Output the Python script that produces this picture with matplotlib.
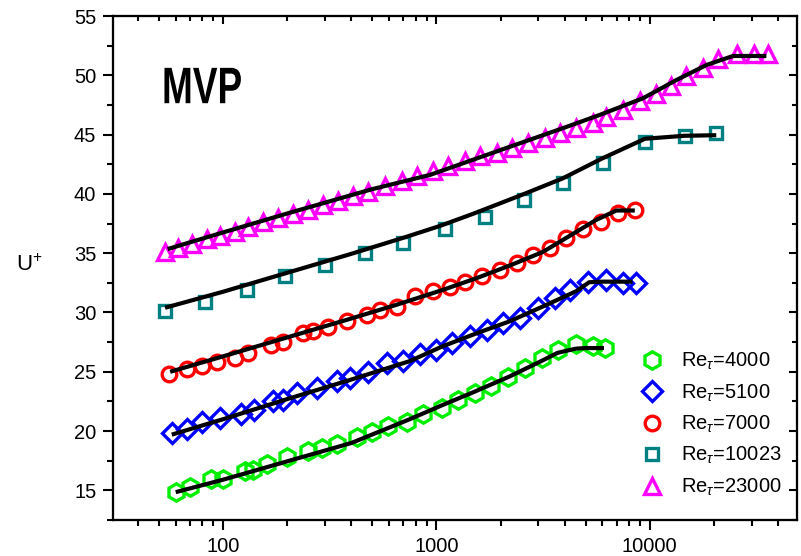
import matplotlib
matplotlib.use("Agg")
import matplotlib.pyplot as plt
from matplotlib.ticker import FixedLocator, MultipleLocator, FuncFormatter, LogLocator, NullFormatter
from matplotlib.patheffects import AbstractPathEffect
from matplotlib.transforms import Affine2D

plt.rcParams['font.family'] = ['Liberation Sans', 'DejaVu Sans']
plt.rcParams['mathtext.fontset'] = 'custom'
plt.rcParams['mathtext.rm'] = 'Liberation Sans'
plt.rcParams['mathtext.it'] = 'Liberation Sans:italic'

# ---- data ----
labels = [r'Re$_{\tau}$=4000', r'Re$_{\tau}$=5100', r'Re$_{\tau}$=7000',
          r'Re$_{\tau}$=10023', r'Re$_{\tau}$=23000']

g_x = [60, 70, 88, 100, 127, 138, 161, 200, 250, 291, 342, 424, 499, 594, 728, 867,
       1057, 1265, 1513, 1812, 2168, 2599, 3111, 3718, 4536, 5425, 6150]
g_y = [14.9, 15.3, 16.0, 16.0, 16.6, 16.75, 17.2, 17.8, 18.3, 18.6, 18.95, 19.5, 19.9,
       20.4, 20.8, 21.4, 21.95, 22.65, 23.2, 23.8, 24.55, 25.3, 26.15, 26.85, 27.35, 27.15, 27.0]
gl_x = [60, 100, 200, 400, 750, 1070, 1500, 2200, 3100, 3700, 4500, 5000, 6100]
gl_y = [14.85, 15.9, 17.45, 19.0, 21.0, 22.2, 23.3, 24.6, 25.9, 26.6, 26.95, 27.0, 27.0]

b_x = [57.5, 67.6, 79.5, 96.8, 122, 139, 172, 192, 221, 275, 341, 394, 480, 585, 700, 838,
       1000, 1178, 1435, 1718, 2056, 2462, 2999, 3590, 4220, 5140, 6265, 7500, 8650]
b_y = [19.85, 20.2, 20.75, 21.1, 21.4, 21.8, 22.5, 22.6, 23.2, 23.6, 24.2, 24.5, 25.0, 25.7,
       25.9, 26.5, 26.85, 27.4, 28.0, 28.5, 29.1, 29.5, 30.4, 31.2, 31.9, 32.6, 32.7, 32.5, 32.5]
bl_x = [57.5, 100, 200, 400, 750, 1070, 1545, 2200, 3150, 4530, 5200, 6000, 8300]
bl_y = [19.7, 21.0, 22.7, 24.35, 25.9, 27.15, 28.25, 29.25, 30.5, 31.8, 32.55, 32.6, 32.6]

r_x = [56, 68, 79.5, 93.4, 114, 131, 167, 191, 238, 265, 311, 380, 471, 544, 651, 793, 967,
       1157, 1360, 1628, 1983, 2374, 2840, 3400, 4070, 4875, 5940, 7110, 8510]
r_y = [24.8, 25.2, 25.5, 25.8, 26.2, 26.55, 27.3, 27.55, 28.3, 28.4, 28.8, 29.25, 29.8, 30.2,
       30.5, 31.35, 31.8, 32.15, 32.6, 33.05, 33.6, 34.15, 34.85, 35.4, 36.25, 37.0, 37.65,
       38.4, 38.65]
rl_x = [56.5, 100, 200, 400, 650, 1070, 1545, 2200, 3150, 4530, 5600, 6980, 8510]
rl_y = [25.0, 26.3, 27.9, 29.5, 30.65, 31.9, 32.9, 33.95, 35.1, 36.8, 37.8, 38.6, 38.6]

t_x = [53.5, 82.4, 129, 195, 300, 462, 700, 1096, 1687, 2570, 3927, 6040, 9480, 14580, 20500]
t_y = [30.1, 30.9, 31.9, 33.05, 34.0, 35.0, 35.9, 37.0, 38.05, 39.5, 40.9, 42.6, 44.4,
       44.85, 45.1]
tl_x = [53.5, 100, 200, 400, 700, 1040, 1500, 2500, 3900, 6000, 9500, 14500, 20500]
tl_y = [30.4, 31.75, 33.35, 34.95, 36.3, 37.3, 38.35, 39.9, 41.3, 43.0, 44.65, 44.9, 44.95]

m_x = [53.5, 61.8, 71.3, 83.9, 96.8, 113.8, 131.4, 154.6, 181.7, 213.7, 251, 295, 347, 408,
       480, 574, 687, 807, 967, 1135, 1360, 1598, 1914, 2250, 2692, 3222, 3786, 4536, 5425,
       6265, 7500, 8970, 10740, 12620, 14860, 17780, 20900, 25700, 30700, 36000]
m_y = [35.06, 35.48, 35.77, 36.19, 36.47, 36.8, 37.17, 37.59, 37.96, 38.3, 38.66, 39.08,
       39.41, 39.84, 40.17, 40.68, 41.1, 41.52, 41.94, 42.36, 42.78, 43.2, 43.48, 43.9, 44.33,
       44.75, 45.17, 45.59, 46.01, 46.5, 47.1, 47.8, 48.4, 49.1, 49.95, 50.6, 51.35, 51.8,
       51.8, 51.8]
ml_x = [55, 100, 200, 500, 933, 2000, 4000, 5830, 9310, 13330, 18450, 24550, 35200]
ml_y = [35.35, 36.75, 38.35, 40.4, 41.6, 43.7, 45.6, 46.66, 48.07, 49.6, 50.87, 51.63, 51.63]

x_ticks = [100, 1000, 10000]
y_ticks = [15, 20, 25, 30, 35, 40, 45, 50, 55]


class XSqueeze(AbstractPathEffect):
    """Draw text glyphs narrowed horizontally about a fixed display x."""
    def __init__(self, sx, x0):
        super().__init__()
        self.sx = sx
        self.x0 = x0

    def draw_path(self, renderer, gc, tpath, affine, rgbFace=None):
        t = affine + Affine2D().translate(-self.x0, 0).scale(self.sx, 1).translate(self.x0, 0)
        renderer.draw_path(gc, tpath, t, rgbFace)


# ---- figure ----
W, H = 8.01, 5.56
fig = plt.figure(figsize=(W, H), dpi=100)
ax_rect = [0.1411, 0.0647, 0.995 - 0.1411, 0.9712 - 0.0647]
ax = fig.add_axes(ax_rect)

series = [
    (g_x, g_y, 'h', '#00EE00', 12.5, labels[0]),
    (b_x, b_y, 'D', '#0000FF', 10.5, labels[1]),
    (r_x, r_y, 'o', '#FF0000', 10.5, labels[2]),
    (t_x, t_y, 's', '#008080', 9, labels[3]),
    (m_x, m_y, '^', '#FF00FF', 12, labels[4]),
]
for xs, ys, mk, col, ms, lab in series:
    ax.plot(xs, ys, linestyle='none', marker=mk, ms=ms, mfc='none', mec=col, mew=2.4,
            label=lab, zorder=2)

for lx, ly in [(gl_x, gl_y), (bl_x, bl_y), (rl_x, rl_y), (tl_x, tl_y), (ml_x, ml_y)]:
    ax.plot(lx, ly, color='black', lw=3, zorder=3, solid_capstyle='butt')

ax.set_xscale('log')
ax.set_xlim(30.5, 49000)
ax.set_ylim(12.5, 55)

ax.xaxis.set_major_locator(FixedLocator(x_ticks))
ax.xaxis.set_major_formatter(FuncFormatter(lambda v, p: f'{v:g}'))
ax.xaxis.set_minor_locator(LogLocator(base=10, subs=range(2, 10), numticks=20))
ax.xaxis.set_minor_formatter(NullFormatter())
ax.yaxis.set_major_locator(FixedLocator(y_ticks))
ax.yaxis.set_minor_locator(MultipleLocator(2.5))

for sp in ax.spines.values():
    sp.set_linewidth(1.5)

ax.tick_params(which='major', direction='out', length=7, width=1.5, labelsize=14.5, pad=5)
ax.tick_params(which='minor', direction='out', length=4, width=1.5)

# mirrored inward ticks on top and right
axt = ax.twiny()
axt.set_xscale('log')
axt.set_xlim(ax.get_xlim())
axt.xaxis.set_major_locator(FixedLocator(x_ticks))
axt.xaxis.set_minor_locator(LogLocator(base=10, subs=range(2, 10), numticks=20))
axt.tick_params(which='major', direction='in', length=6, width=1.5, labeltop=False)
axt.tick_params(which='minor', direction='in', length=3.5, width=1.5)
axt.xaxis.set_major_formatter(NullFormatter())
axt.xaxis.set_minor_formatter(NullFormatter())

axr = ax.twinx()
axr.set_ylim(ax.get_ylim())
axr.yaxis.set_major_locator(FixedLocator(y_ticks))
axr.yaxis.set_minor_locator(MultipleLocator(2.5))
axr.tick_params(which='major', direction='in', length=6, width=1.5, labelright=False)
axr.tick_params(which='minor', direction='in', length=3.5, width=1.5)
for a in (axt, axr):
    for sp in a.spines.values():
        sp.set_linewidth(1.5)

ax.set_ylabel(r'U$^{+}$', fontsize=16, rotation=0, va='center')
ax.yaxis.set_label_coords(-0.122, 0.505)

mvp_x = 0.0716
x0_px = (ax_rect[0] + mvp_x * ax_rect[2]) * W * 100
ax.text(mvp_x, 0.827, 'MVP', transform=ax.transAxes, fontsize=37, fontweight='bold',
        va='baseline', ha='left', path_effects=[XSqueeze(0.72, x0_px)])

ax.legend(loc='lower left', bbox_to_anchor=(0.774, 0.044), frameon=False, fontsize=14.5,
          handlelength=1.0, handletextpad=0.94, labelspacing=0.5, borderpad=0,
          borderaxespad=0, numpoints=1)

fig.savefig('out.png', dpi=100)
